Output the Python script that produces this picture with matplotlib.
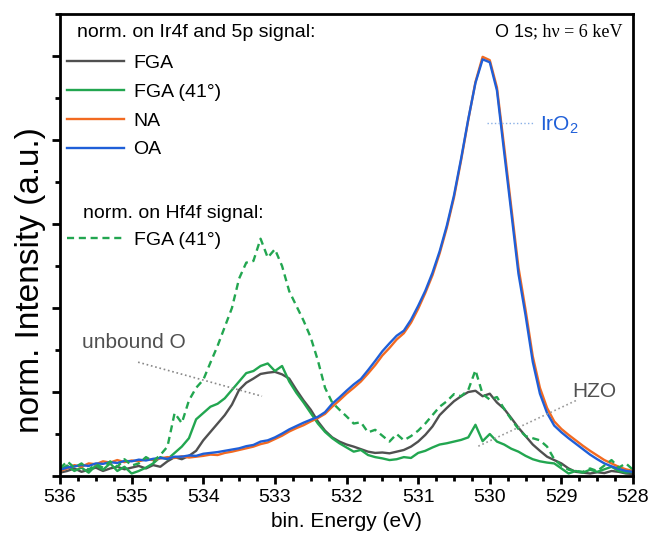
import numpy as np
import matplotlib
matplotlib.use("Agg")
import matplotlib.pyplot as plt
from matplotlib.ticker import MultipleLocator

plt.rcParams['font.family'] = ['Liberation Sans', 'DejaVu Sans']

# binding energy grid (eV), 536 -> 528
energy = np.linspace(536.0, 528.0, 81)

# normalised on Ir4f and 5p signal
oa = [0.015, 0.020, 0.023, 0.026, 0.024, 0.030, 0.029, 0.033, 0.031, 0.036,
      0.035, 0.039, 0.037, 0.041, 0.043, 0.041, 0.046, 0.046, 0.049, 0.048,
      0.053, 0.055, 0.057, 0.060, 0.063, 0.066, 0.071, 0.074, 0.082, 0.085,
      0.092, 0.101, 0.111, 0.119, 0.127, 0.134, 0.141, 0.152, 0.172, 0.187,
      0.203, 0.218, 0.231, 0.252, 0.274, 0.297, 0.316, 0.334, 0.346, 0.372,
      0.405, 0.441, 0.484, 0.535, 0.596, 0.668, 0.756, 0.850, 0.936, 0.992,
      0.985, 0.918, 0.772, 0.628, 0.482, 0.382, 0.272, 0.196, 0.150, 0.120,
      0.104, 0.090, 0.077, 0.064, 0.051, 0.040, 0.030, 0.023, 0.017, 0.012,
      0.010]
na = [0.012, 0.018, 0.026, 0.022, 0.030, 0.028, 0.035, 0.032, 0.038, 0.033,
      0.037, 0.035, 0.040, 0.038, 0.042, 0.045, 0.043, 0.047, 0.044, 0.046,
      0.048, 0.051, 0.050, 0.055, 0.058, 0.062, 0.066, 0.070, 0.076, 0.080,
      0.088, 0.096, 0.106, 0.114, 0.121, 0.130, 0.138, 0.148, 0.165, 0.180,
      0.196, 0.210, 0.225, 0.244, 0.264, 0.287, 0.305, 0.325, 0.340, 0.365,
      0.398, 0.436, 0.478, 0.530, 0.591, 0.663, 0.752, 0.848, 0.938, 0.998,
      0.990, 0.925, 0.785, 0.640, 0.497, 0.395, 0.285, 0.210, 0.162, 0.130,
      0.112, 0.098, 0.085, 0.072, 0.060, 0.049, 0.038, 0.030, 0.022, 0.016,
      0.012]
fga = [0.008, 0.012, 0.018, 0.010, 0.015, 0.020, 0.012, 0.018, 0.022, 0.016,
       0.020, 0.024, 0.018, 0.026, 0.022, 0.035, 0.045, 0.040, 0.048, 0.060,
       0.085, 0.105, 0.125, 0.145, 0.170, 0.205, 0.222, 0.232, 0.243, 0.246,
       0.248, 0.242, 0.232, 0.205, 0.180, 0.158, 0.130, 0.108, 0.092, 0.082,
       0.075, 0.070, 0.064, 0.058, 0.055, 0.056, 0.054, 0.058, 0.062, 0.070,
       0.082, 0.098, 0.118, 0.145, 0.162, 0.178, 0.190, 0.200, 0.203, 0.190,
       0.196, 0.175, 0.160, 0.138, 0.115, 0.095, 0.075, 0.060, 0.046, 0.038,
       0.030, 0.018, 0.010, 0.008, 0.006, 0.009, 0.007, 0.012, 0.010, 0.006,
       0.005]
fga41 = [0.015, 0.025, 0.012, 0.020, 0.008, 0.025, 0.015, 0.030, 0.012, 0.022,
         0.006, 0.012, 0.020, 0.030, 0.045, 0.040, 0.055, 0.070, 0.090, 0.135,
         0.150, 0.165, 0.172, 0.185, 0.205, 0.225, 0.245, 0.250, 0.262, 0.268,
         0.250, 0.262, 0.225, 0.198, 0.175, 0.150, 0.125, 0.105, 0.090, 0.078,
         0.068, 0.058, 0.062, 0.050, 0.045, 0.042, 0.038, 0.040, 0.045, 0.043,
         0.055, 0.060, 0.068, 0.075, 0.078, 0.082, 0.086, 0.092, 0.122, 0.083,
         0.100, 0.082, 0.075, 0.065, 0.058, 0.048, 0.040, 0.035, 0.032, 0.030,
         0.018, 0.006, 0.012, 0.008, 0.015, 0.010, 0.016, 0.022, 0.012, 0.008,
         0.010]

# normalised on Hf4f signal
fga41_hf = [0.018, 0.035, 0.020, 0.030, 0.015, 0.028, 0.020, 0.035, 0.022, 0.040,
            0.025, 0.030, 0.045, 0.035, 0.050, 0.070, 0.150, 0.126, 0.180, 0.210,
            0.229, 0.270, 0.310, 0.355, 0.400, 0.470, 0.508, 0.512, 0.565, 0.520,
            0.540, 0.500, 0.440, 0.405, 0.370, 0.330, 0.275, 0.210, 0.175, 0.158,
            0.142, 0.125, 0.128, 0.104, 0.110, 0.096, 0.082, 0.100, 0.085, 0.095,
            0.108, 0.125, 0.145, 0.165, 0.178, 0.195, 0.190, 0.205, 0.252, 0.195,
            0.182, 0.188, 0.160, 0.135, 0.112, 0.095, 0.090, 0.085, 0.070, 0.040,
            0.025, 0.015, 0.012, 0.010, 0.018, 0.012, 0.025, 0.038, 0.020, 0.030,
            0.015]

GREY = '#505050'
GREEN = '#22a650'
ORANGE = '#f26a21'
BLUE = '#1f5fd8'

fig = plt.figure(figsize=(6.51, 5.36), dpi=100)
ax = fig.add_axes([0.0922, 0.1119, 0.8802, 0.862])

l_fga, = ax.plot(energy, fga, color=GREY, lw=1.7, label='FGA')
l_fga41, = ax.plot(energy, fga41, color=GREEN, lw=1.7, label='FGA (41°)')
l_na, = ax.plot(energy, na, color=ORANGE, lw=1.7, label='NA')
l_oa, = ax.plot(energy, oa, color=BLUE, lw=1.7, label='OA')
l_hf, = ax.plot(energy, fga41_hf, color=GREEN, lw=1.7, ls=(0, (3, 2)),
                label='FGA (41°)')

ax.set_xlim(536, 528)
ax.set_ylim(0, 1.1)
ax.xaxis.set_major_locator(MultipleLocator(1))
ax.xaxis.set_minor_locator(MultipleLocator(0.25))
ax.yaxis.set_major_locator(MultipleLocator(0.2))
ax.yaxis.set_minor_locator(MultipleLocator(0.1))
ax.set_yticklabels([])
ax.tick_params(which='major', direction='out', length=5.5, width=2, labelsize=14)
ax.tick_params(which='minor', direction='out', length=3.5, width=2)
for sp in ax.spines.values():
    sp.set_linewidth(2)

ax.set_xlabel('bin. Energy (eV)', fontsize=15, labelpad=5)
ax.set_ylabel('norm. Intensity (a.u.)', fontsize=24)
ax.yaxis.set_label_coords(-0.051, 0.425)
ax.yaxis.label.set_va('center')

# legends
ax.text(0.030, 0.959, 'norm. on Ir4f and 5p signal:', transform=ax.transAxes,
        fontsize=14, va='center', ha='left')
leg1 = ax.legend(handles=[l_fga, l_fga41, l_na, l_oa], loc='upper left',
                 bbox_to_anchor=(0.013, 0.913), frameon=False, fontsize=14,
                 handlelength=2.9, handletextpad=0.5, labelspacing=0.58,
                 borderpad=0, borderaxespad=0)
ax.add_artist(leg1)
ax.text(0.040, 0.569, 'norm. on Hf4f signal:', transform=ax.transAxes,
        fontsize=14, va='center', ha='left')
ax.legend(handles=[l_hf], loc='upper left', bbox_to_anchor=(0.013, 0.530),
          frameon=False, fontsize=14, handlelength=2.9, handletextpad=0.5,
          borderpad=0, borderaxespad=0)

# header: "O 1s" in sans, the rest in serif
t_serif = ax.text(0.981, 0.961, '; hν = 6 keV', transform=ax.transAxes,
                  fontsize=13, va='center', ha='right',
                  family=['Liberation Serif', 'DejaVu Serif'])
fig.canvas.draw()
bb = t_serif.get_window_extent().transformed(ax.transAxes.inverted())
ax.text(bb.x0, 0.961, 'O 1s', transform=ax.transAxes, fontsize=13,
        va='center', ha='right')

ax.plot([530.04, 529.39], [0.840, 0.840], ls=':', lw=1, color='#8ab0e6')
ax.text(529.30, 0.836, r'IrO$_\mathregular{2}$', color=BLUE, fontsize=15,
        va='center', ha='left')

ax.plot([534.91, 533.18], [0.271, 0.190], ls=':', lw=1.2, color='#888888')
ax.text(535.69, 0.317, 'unbound O', color=GREY, fontsize=15,
        va='center', ha='left')

ax.plot([530.16, 528.78], [0.071, 0.181], ls=':', lw=1.2, color='#999999')
ax.text(528.85, 0.202, 'HZO', color=GREY, fontsize=15, va='center', ha='left')

fig.savefig('out.png', dpi=100)
